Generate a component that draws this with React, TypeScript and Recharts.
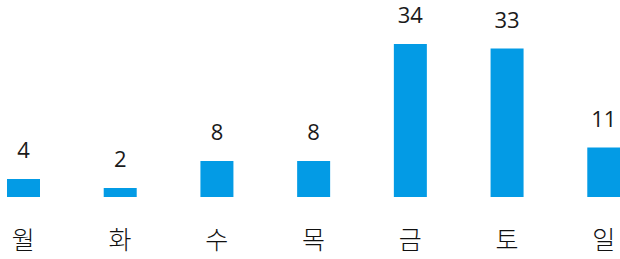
import { BarChart, Bar, XAxis, YAxis, LabelList } from "recharts";

const days = ["월", "화", "수", "목", "금", "토", "일"];
const counts = [4, 2, 8, 8, 34, 33, 11];

const data = days.map((day, i) => ({ day, count: counts[i] }));

const KR_FONT = "'Noto Sans CJK KR', sans-serif";
const NUM_FONT = "'Open Sans', 'Noto Sans', sans-serif";

export default function App() {
    return (
        <div
            style={{
                position: "absolute",
                left: 0,
                top: 0,
                width: 620,
                height: 259,
                overflow: "hidden",
                background: "#fff",
            }}
        >
            <div style={{ marginLeft: -25 }}>
                <BarChart
                    width={677}
                    height={259}
                    data={data}
                    margin={{ top: 44, right: 0, bottom: 0, left: 0 }}
                >
                    <XAxis
                        dataKey="day"
                        height={62}
                        axisLine={false}
                        tickLine={false}
                        tickMargin={28}
                        tick={{ fontSize: 25, fill: "#111", fontFamily: KR_FONT, fontWeight: 300 }}
                    />
                    <YAxis hide domain={[0, 34]} />
                    <Bar dataKey="count" fill="#039be5" barSize={33} isAnimationActive={false}>
                        <LabelList
                            dataKey="count"
                            position="top"
                            offset={21}
                            style={{ fontSize: 22, fill: "#1a1a1a", fontFamily: NUM_FONT }}
                        />
                    </Bar>
                </BarChart>
            </div>
        </div>
    );
}
